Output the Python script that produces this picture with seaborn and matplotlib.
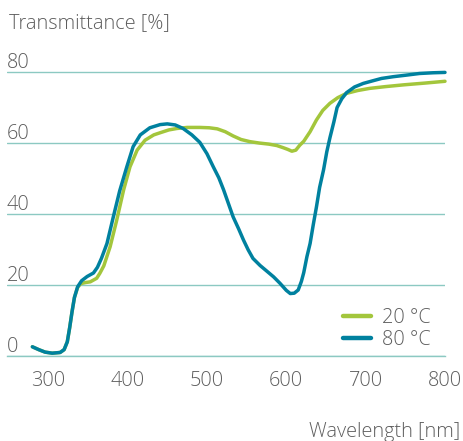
import matplotlib
matplotlib.use("Agg")
import matplotlib.pyplot as plt
import numpy as np
import pandas as pd
import seaborn as sns

# Spectral transmittance of the glazing at two temperatures
wavelength_20 = [280, 288, 296, 305, 315, 320, 324, 327, 330, 333, 337, 341, 347, 353,
                 361, 365, 370, 378, 386, 395, 403, 412, 422, 433, 441, 452, 462, 475,
                 491, 503, 513, 523, 533, 543, 554, 566, 578, 588, 596, 602, 607, 612,
                 617, 622, 630, 638, 646, 655, 665, 676, 690, 705, 725, 748, 775, 800]
transmittance_20 = [2.6, 1.8, 1.1, 0.8, 1.0, 1.8, 4.0, 8.0, 12.5, 16.5, 19.3, 20.4, 20.7, 20.9,
                    21.9, 23.3, 25.4, 30.8, 38.0, 46.8, 53.3, 58.0, 60.8, 62.3, 62.9, 63.7, 64.1, 64.4,
                    64.4, 64.3, 64.0, 63.2, 62.0, 61.0, 60.4, 60.0, 59.7, 59.3, 58.7, 58.2, 57.7, 58.0,
                    59.4, 60.5, 63.2, 66.5, 69.2, 71.2, 72.8, 74.0, 74.8, 75.4, 75.9, 76.4, 76.9, 77.4]

wavelength_80 = [280, 288, 296, 305, 315, 320, 324, 327, 330, 333, 337, 342, 349, 357,
                 362, 367, 374, 382, 390, 399, 407, 416, 428, 441, 450, 460, 470, 481,
                 491, 500, 508, 515, 521, 527, 533, 540, 546, 552, 558, 567, 575, 584, 592, 600, 605, 610,
                 615, 619, 622, 626, 630, 634, 638, 642, 647, 651, 655, 660, 664, 670,
                 676, 686, 697, 710, 720, 735, 750, 768, 785, 800]
transmittance_80 = [2.6, 1.8, 1.1, 0.8, 1.0, 1.8, 4.0, 8.0, 12.5, 16.5, 19.5, 21.2, 22.4, 23.4,
                    25.0, 27.5, 31.7, 39.2, 46.5, 53.3, 59.0, 62.3, 64.3, 65.2, 65.4, 65.1, 64.1, 62.3,
                    60.2, 57.0, 53.3, 50.2, 46.8, 43.0, 39.2, 35.8, 32.7, 29.9, 27.5, 25.5, 24.0, 22.3,
                    20.5, 18.5, 17.6, 17.7,
                    18.6, 21.0, 23.5, 28.0, 31.7, 37.0, 42.0, 47.5, 52.5, 57.5, 61.5, 66.0, 70.0, 72.5,
                    74.2, 75.8, 76.8, 77.6, 78.2, 78.7, 79.1, 79.6, 79.8, 79.9]

series_labels = ["20 °C", "80 °C"]
x_ticks = [300, 400, 500, 600, 700, 800]
y_ticks = [0, 20, 40, 60, 80]

df = pd.concat([
    pd.DataFrame({"Wavelength": wavelength_20, "Transmittance": transmittance_20,
                  "Temperature": series_labels[0]}),
    pd.DataFrame({"Wavelength": wavelength_80, "Transmittance": transmittance_80,
                  "Temperature": series_labels[1]}),
], ignore_index=True)

sns.set_style("white")
plt.rcParams["font.family"] = ["Open Sans", "DejaVu Sans"]
plt.rcParams["font.weight"] = "light"

TEXT = "#5e5e5e"
GRID = "#8cc9c2"
GREEN = "#a3c63c"
BLUE = "#00819f"
FS = 14.3

fig = plt.figure(figsize=(4.63, 4.41), dpi=100)
ax = fig.add_axes([0.0151, 0.1927, 0.946, 0.660])

sns.lineplot(data=df, x="Wavelength", y="Transmittance", hue="Temperature",
             palette={series_labels[0]: GREEN, series_labels[1]: BLUE},
             linewidth=2.5, sort=False, ax=ax, zorder=3, clip_on=False)

ax.set_xlim(248, 800)
ax.set_ylim(0, 82)
ax.set_xlabel("")
ax.set_ylabel("")

for s in ["top", "right", "left"]:
    ax.spines[s].set_visible(False)
ax.spines["bottom"].set_color(GRID)
ax.spines["bottom"].set_linewidth(1.0)

ax.set_yticks(y_ticks)
ax.set_yticklabels([])
ax.tick_params(axis="y", length=0)
ax.yaxis.grid(True, color=GRID, linewidth=1.0)
ax.set_axisbelow(True)

# y values written just above their grid lines
for v in y_ticks:
    ax.annotate(str(v), xy=(0, v), xycoords=("axes fraction", "data"),
                xytext=(0.0, -0.5), textcoords="offset points",
                ha="left", va="bottom", fontsize=FS, color=TEXT)

ax.set_xticks(x_ticks)
ax.set_xticklabels([str(t) for t in x_ticks], fontsize=FS, color=TEXT)
ax.tick_params(axis="x", direction="in", length=3, width=0.8, color="#c8c8c8", pad=11)

fig.text(0.020, 0.937, "Transmittance [%]", fontsize=FS, color=TEXT, ha="left", va="baseline")
fig.text(0.994, 0.008, "Wavelength [nm]", fontsize=FS, color=TEXT, ha="right", va="baseline")

sns.move_legend(ax, "upper left", bbox_to_anchor=(0.767, 0.166), frameon=False, title=None,
                fontsize=FS, handlelength=1.42, handletextpad=0.55, labelspacing=0.1,
                borderpad=0, borderaxespad=0)
leg = ax.get_legend()
for line in leg.get_lines():
    line.set_linewidth(3.2)
for t in leg.get_texts():
    t.set_color(TEXT)

fig.savefig("out.png", dpi=100, facecolor="white")
